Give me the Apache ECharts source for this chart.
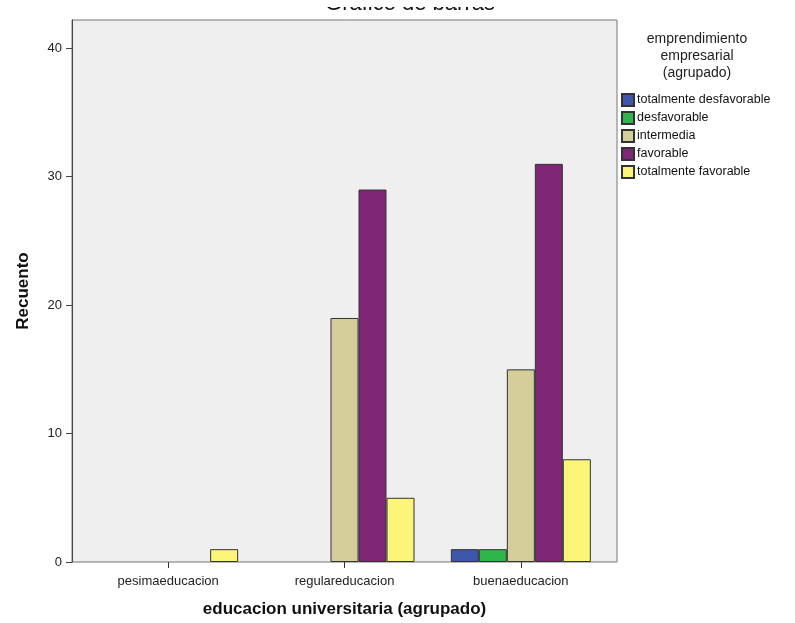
<!DOCTYPE html>
<html><head><meta charset="utf-8">
<script src="https://cdn.jsdelivr.net/npm/echarts@6/dist/echarts.min.js"></script>
<style>html,body{margin:0;padding:0;background:#fff}#c{width:795px;height:623px}</style>
</head><body><div id="c"></div>
<script>
const categories = ['pesimaeducacion', 'regulareducacion', 'buenaeducacion'];
const seriesNames = ['totalmente desfavorable', 'desfavorable', 'intermedia', 'favorable', 'totalmente favorable'];
const totalmenteDesfavorable = [0, 0, 1];
const desfavorable = [0, 0, 1];
const intermedia = [0, 19, 15];
const favorable = [0, 29, 31];
const totalmenteFavorable = [1, 5, 8];
const yTicks = [0, 10, 20, 30, 40];
const colors = ['#3f57aa', '#2fb64a', '#d4cf9a', '#7f2677', '#fbf677'];
const values = [totalmenteDesfavorable, desfavorable, intermedia, favorable, totalmenteFavorable];

const FONT = 'Liberation Sans, Arial, sans-serif';
const YMAX = 42.2;
const chart = echarts.init(document.getElementById('c'));
chart.setOption({
  animation: false,
  textStyle: { fontFamily: FONT },
  grid: [
    { left: 72, right: 178, top: 20, bottom: 61, show: true, backgroundColor: '#efefef', borderColor: '#777', borderWidth: 1, outerBoundsMode: 'none', containLabel: false },
    { left: 80, right: 186, top: 20, bottom: 61, outerBoundsMode: 'none', containLabel: false }
  ],
  xAxis: [
    { gridIndex: 0, type: 'value', show: false, min: 0, max: 1 },
    { gridIndex: 1, type: 'category', data: categories,
      axisLine: { show: false, onZero: false },
      axisTick: { show: true, alignWithLabel: true, length: 6, lineStyle: { color: '#333' } },
      axisLabel: { color: '#222', fontSize: 13, margin: 13, fontFamily: FONT },
      name: 'educacion universitaria (agrupado)', nameLocation: 'middle', nameGap: 39,
      nameTextStyle: { fontSize: 17, fontWeight: 'bold', color: '#111', fontFamily: FONT }
    }
  ],
  yAxis: [
    { gridIndex: 0, type: 'value', min: 0, max: YMAX, show: false },
    { gridIndex: 1, type: 'value', min: 0, max: YMAX, interval: 10, offset: 8,
      axisLine: { show: true, lineStyle: { color: '#444', width: 1 } },
      axisTick: { show: true, length: 6, customValues: yTicks, lineStyle: { color: '#444' } },
      axisLabel: { color: '#222', fontSize: 13, margin: 10, customValues: yTicks, fontFamily: FONT },
      splitLine: { show: false },
      name: 'Recuento', nameLocation: 'middle', nameGap: 40, nameRotate: 90,
      nameTextStyle: { fontSize: 17, fontWeight: 'bold', color: '#111', fontFamily: FONT }
    }
  ],
  legend: {
    orient: 'vertical', left: 616, top: 88, itemWidth: 12, itemHeight: 12, itemGap: 4,
    icon: 'rect', data: seriesNames,
    textStyle: { fontSize: 12.5, color: '#111', padding: [0, 0, 0, -2], fontFamily: FONT }
  },
  graphic: [
    { type: 'text', z: 10, style: { text: 'Gráfico de barras', x: 410, y: 15, textAlign: 'center', textVerticalAlign: 'bottom', verticalAlign: 'bottom', font: '22px ' + FONT, fill: '#111' } },
    { type: 'rect', z: 100, zlevel: 0, shape: { x: 300, y: 0, width: 220, height: 7 }, style: { fill: '#ffffff', stroke: null } },
    { type: 'text', style: { text: 'emprendimiento\nempresarial\n(agrupado)', x: 697, y: 31, textAlign: 'center', font: '14px ' + FONT, fill: '#222', lineHeight: 17 } }
  ],
  series: seriesNames.map((n, i) => ({
    name: n, type: 'bar', xAxisIndex: 1, yAxisIndex: 1,
    data: values[i].map(v => v === 0 ? null : v),
    barGap: '0%', barCategoryGap: '20.6%',
    itemStyle: { color: colors[i], borderColor: '#333', borderWidth: 1 }
  }))
});
</script></body></html>
